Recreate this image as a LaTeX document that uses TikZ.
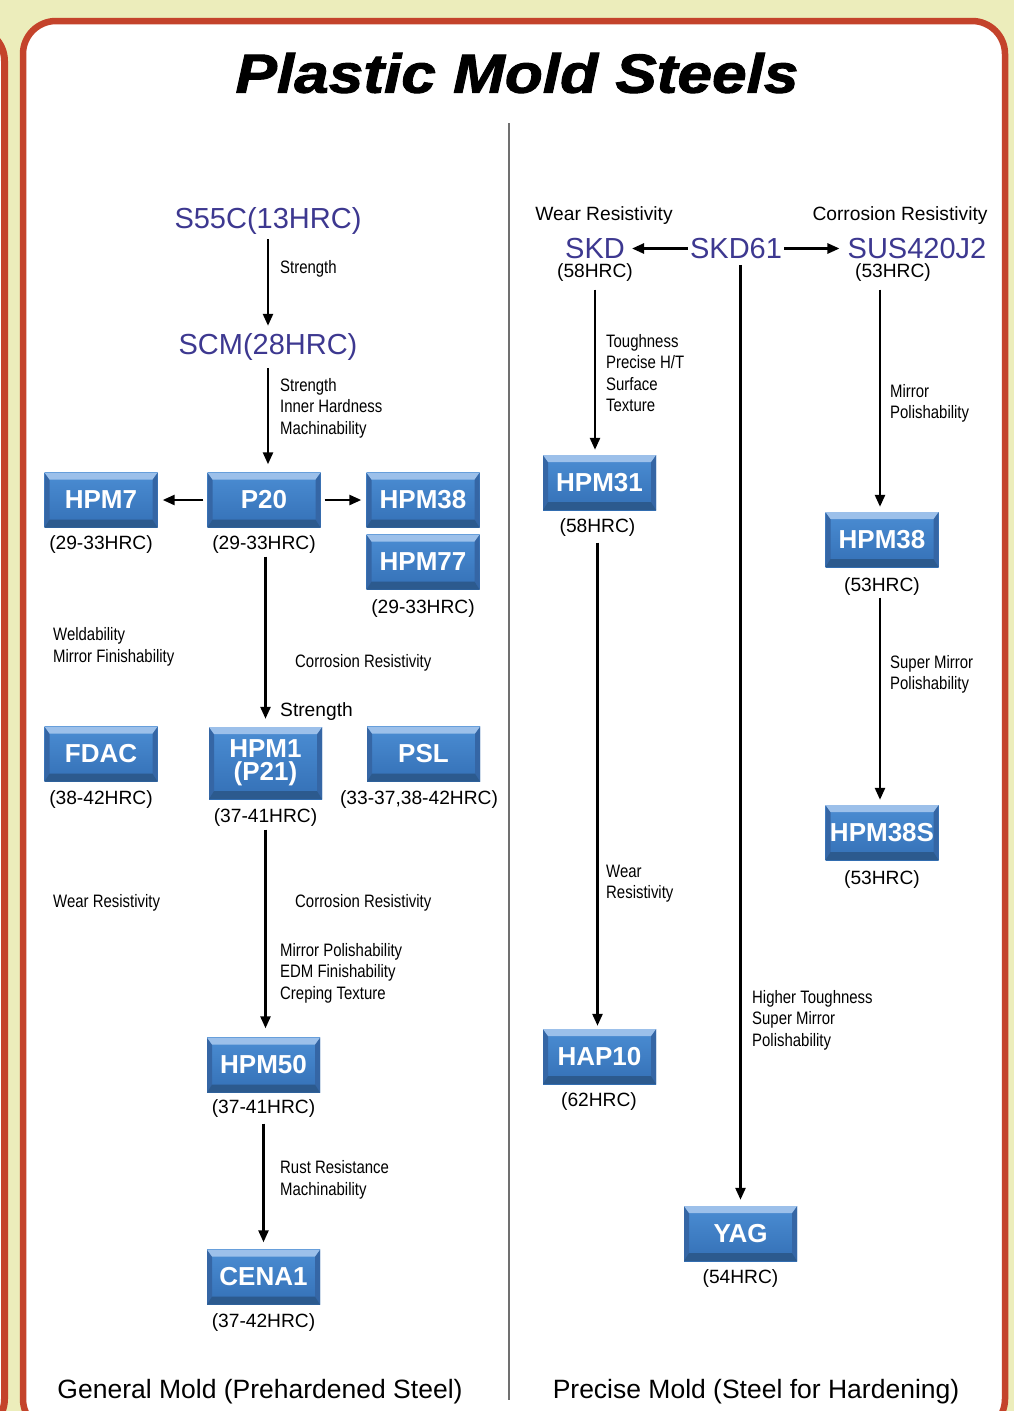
\documentclass[tikz,border=0pt]{standalone}
\usepackage{fontspec}
\setmainfont{Liberation Sans}
\newfontfamily\condfont{Liberation Sans}[FakeStretch=0.83]
\newfontfamily\titlefont{Liberation Sans Bold Italic}[FakeStretch=1.13,FakeBold=1.8]
\usetikzlibrary{arrows.meta}
\definecolor{bgyellow}{HTML}{ECEDBB}
\definecolor{panelred}{HTML}{C4432B}
\definecolor{steelpurple}{HTML}{3D3890}
\definecolor{boxtopc}{HTML}{4B8DD3}
\definecolor{boxbotc}{HTML}{3470B6}
\definecolor{bevellight}{HTML}{9CC0EA}
\definecolor{beveldark}{HTML}{2C5A8E}
\definecolor{bevelside}{HTML}{3566A5}
\definecolor{divgray}{HTML}{707070}
\begin{document}
\begin{tikzpicture}[x=1pt,y=-1pt,
  steel/.style={minimum width=113pt, minimum height=55pt, inner sep=0pt,
    text=white, font=\fontsize{26}{23}\selectfont\bfseries,
    top color=boxtopc, bottom color=boxbotc,
    path picture={
      \path (path picture bounding box.north west) coordinate (bnw)
            (path picture bounding box.north east) coordinate (bne)
            (path picture bounding box.south west) coordinate (bsw)
            (path picture bounding box.south east) coordinate (bse);
      \fill[bevelside] (bnw) -- ([shift={(5pt,-7pt)}]bnw) -- ([shift={(5pt,8pt)}]bsw) -- (bsw) -- cycle;
      \fill[bevelside] (bne) -- ([shift={(-5pt,-7pt)}]bne) -- ([shift={(-5pt,8pt)}]bse) -- (bse) -- cycle;
      \fill[bevellight] (bnw) -- (bne) -- ([shift={(-5pt,-7pt)}]bne) -- ([shift={(5pt,-7pt)}]bnw) -- cycle;
      \fill[beveldark] (bsw) -- (bse) -- ([shift={(-5pt,8pt)}]bse) -- ([shift={(5pt,8pt)}]bsw) -- cycle;
    }},
  hrc/.style={inner sep=0pt, yshift=-2.5pt, font=\fontsize{19.2}{23}\selectfont},
  lbl/.style={inner sep=0pt, yshift=-2.5pt, font=\fontsize{19.2}{23}\selectfont},
  cond/.style={inner sep=0pt, yshift=-2pt, anchor=west, align=left, font=\condfont\fontsize{18}{21.5}\selectfont},
  purp/.style={inner sep=0pt, yshift=-2.5pt, text=steelpurple, font=\fontsize{29}{32}\selectfont},
  foot/.style={inner sep=0pt, yshift=-2.5pt, font=\fontsize{26.5}{30}\selectfont},
  arr/.style={line width=2.5pt, -{Triangle[length=12pt,width=10pt]}, shorten <=7pt, shorten >=6pt}
]
\useasboundingbox (0,0) rectangle (1014,1411);
\fill[bgyellow] (0,0) rectangle (1014,1411);
\draw[panelred, line width=7pt, fill=white, rounded corners=33pt] (-300,28) rectangle (4.5,1432);
\draw[panelred, line width=6.5pt, fill=white, rounded corners=33pt] (23,21) rectangle (1005,1432);

% title
\node[inner sep=0pt, font=\titlefont\fontsize{55}{60}\selectfont] (title) at (517,73) {Plastic Mold Steels};

% divider
\draw[divgray, line width=2pt] (509,123) -- (509,1400);

% ---------------- left column ----------------
\node[purp] (s55c) at (268,218) {S55C(13HRC)};
\node[purp] (scm) at (268,344) {SCM(28HRC)};
\node[steel] (p20) at (264,500) {P20};
\node[hrc] (p20h) at (264,542) {(29-33HRC)};
\node[steel] (hpm7) at (101,500) {HPM7};
\node[hrc] (hpm7h) at (101,542) {(29-33HRC)};
\node[steel] (hpm38) at (423,500) {HPM38};
\node[steel] (hpm77) at (423,562) {HPM77};
\node[hrc] (hpm77h) at (423,606) {(29-33HRC)};
\node[steel] (fdac) at (101,754) {FDAC};
\node[hrc] (fdach) at (101,797) {(38-42HRC)};
\node[steel, minimum height=72pt, align=center] (hpm1) at (265.5,763) {HPM1\\(P21)};
\node[hrc] (hpm1h) at (265.5,815) {(37-41HRC)};
\node[steel] (psl) at (423.5,754) {PSL};
\node[hrc] (pslh) at (419,797) {(33-37,38-42HRC)};
\node[steel] (hpm50) at (263.5,1065) {HPM50};
\node[hrc] (hpm50h) at (263.5,1106) {(37-41HRC)};
\node[steel] (cena1) at (263.5,1277) {CENA1};
\node[hrc] (cena1h) at (263.5,1320) {(37-42HRC)};

\node[cond] (l1) at (280,267) {Strength};
\node[cond] (l2) at (280,406) {Strength\\Inner Hardness\\Machinability};
\node[cond] (l3) at (53,645) {Weldability\\Mirror Finishability};
\node[cond] (l4) at (295,661) {Corrosion Resistivity};
\node[lbl, anchor=west] (l5) at (280,709) {Strength};
\node[cond] (l6) at (53,901) {Wear Resistivity};
\node[cond] (l7) at (295,901) {Corrosion Resistivity};
\node[cond] (l8) at (280,971) {Mirror Polishability\\EDM Finishability\\Creping Texture};
\node[cond] (l9) at (280,1178) {Rust Resistance\\Machinability};

\draw[arr, shorten <=5pt, shorten >=7pt] (s55c.south) -- (scm.north);
\draw[arr, shorten <=8pt, shorten >=8pt] (scm.south) -- (scm.south |- p20.north);
\draw[arr, shorten <=4pt, shorten >=5pt] (p20.west) -- (hpm7.east);
\draw[arr, shorten <=4pt, shorten >=5pt] (p20.east) -- (hpm38.west);
\draw[arr, shorten <=3pt, shorten >=8pt] (hpm1.north |- p20h.south) -- (hpm1.north);
\draw[arr, shorten <=3pt, shorten >=9pt] (hpm1h.south) -- (hpm1h.south |- hpm50.north);
\draw[arr, shorten <=6pt, shorten >=7pt] (hpm50h.south) -- (cena1.north);

% ---------------- right column ----------------
\node[lbl] (wearR) at (604,213) {Wear Resistivity};
\node[lbl] (corrR) at (900,213) {Corrosion Resistivity};
\node[purp] (skd) at (595,246) {SKD};
\node[purp] (skd61) at (736,246) {SKD61};
\node[purp] (sus) at (917,246) {SUS420J2};
\node[hrc] (skdh) at (595,270) {(58HRC)};
\node[hrc] (sush) at (893,270) {(53HRC)};
\node[steel] (hpm31) at (599.5,482.5) {HPM31};
\node[hrc] (hpm31h) at (597.5,525) {(58HRC)};
\node[steel] (hap10) at (599.5,1056.5) {HAP10};
\node[hrc] (hap10h) at (599,1099) {(62HRC)};
\node[steel] (hpm38r) at (882,539.5) {HPM38};
\node[hrc] (hpm38rh) at (882,584) {(53HRC)};
\node[steel] (hpm38s) at (882,832.5) {HPM38S};
\node[hrc] (hpm38sh) at (882,877) {(53HRC)};
\node[steel] (yag) at (740.5,1233.5) {YAG};
\node[hrc] (yagh) at (740.5,1276) {(54HRC)};

\node[cond] (r1) at (606,371) {Toughness\\Precise H/T\\Surface\\Texture};
\node[cond] (r2) at (890,401.5) {Mirror\\Polishability};
\node[cond] (r3) at (606,881.5) {Wear\\Resistivity};
\node[cond] (r4) at (890,672.5) {Super Mirror\\Polishability};
\node[cond] (r5) at (752,1018) {Higher Toughness\\Super Mirror\\Polishability};

\draw[arr, shorten <=2pt, shorten >=7pt] (skd61.west) -- (skd.east);
\draw[arr, shorten <=2pt, shorten >=8pt] (skd61.east) -- (sus.west);
\draw[arr, shorten <=8pt, shorten >=5pt] (skdh.south) -- (skdh.south |- hpm31.north);
\draw[arr, shorten <=6pt, shorten >=3pt] (hpm31h.south) -- (hpm31h.south |- hap10.north);
\draw[arr, shorten <=8pt, shorten >=5pt] ([xshift=-2pt]hpm38r.north |- sush.south) -- ([xshift=-2pt]hpm38r.north);
\draw[arr, shorten <=2pt, shorten >=5pt] ([xshift=-2pt]hpm38rh.south) -- ([xshift=-2pt]hpm38s.north);
\draw[arr, shorten <=6pt, shorten >=6pt] (yag.north |- skd61.south) -- (yag.north);

% footers
\node[foot] (footL) at (260,1389) {General Mold (Prehardened Steel)};
\node[foot] (footR) at (756,1389) {Precise Mold (Steel for Hardening)};
\end{tikzpicture}
\end{document}
